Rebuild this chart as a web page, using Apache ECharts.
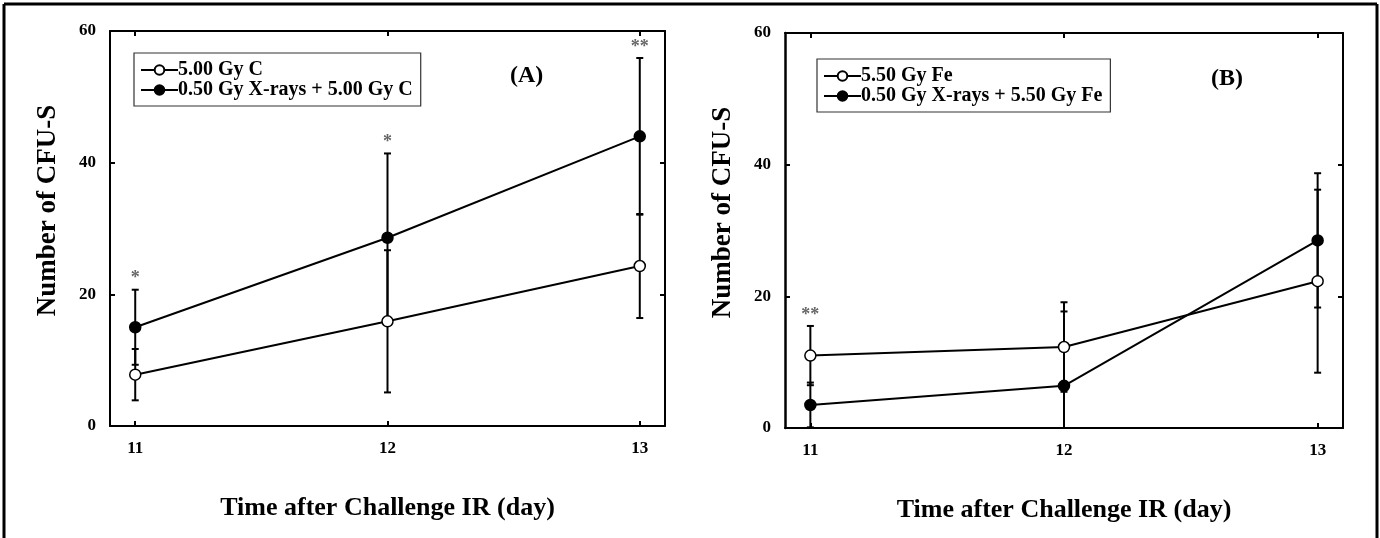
<!DOCTYPE html>
<html>
<head>
<meta charset="utf-8">
<script src="https://cdn.jsdelivr.net/npm/echarts@6/dist/echarts.min.js"></script>
<style>
html, body { margin: 0; padding: 0; background: #fff; }
#main { width: 1380px; height: 538px; }
</style>
</head>
<body>
<div id="main"></div>
<script>
var days = [11, 12, 13];
var yTicks = [0, 20, 40, 60];

// panel A: carbon ions
var cAloneMean = [7.8, 15.9, 24.3];
var cAloneErr = [3.9, 10.8, 7.9];
var cPrimedMean = [15.0, 28.6, 44.0];
var cPrimedErr = [5.7, 12.8, 11.9];
var starsA = ['*', '*', '**'];

// panel B: iron ions
var feAloneMean = [11.0, 12.3, 22.3];
var feAloneErr = [4.5, 6.8, 13.9];
var fePrimedMean = [3.5, 6.4, 28.5];
var fePrimedErr = [3.4, 11.3, 10.2];
var starsB = ['**', '', ''];

var serif = 'Liberation Serif';

function pairs(xs, ys) {
	var out = [];
	for (var i = 0; i < xs.length; i++) out.push([xs[i], ys[i]]);
	return out;
}

function errData(means, errs) {
	var out = [];
	for (var i = 0; i < days.length; i++) {
		out.push([days[i], means[i] - errs[i], means[i] + errs[i]]);
	}
	return out;
}

function errSeries(idx, means, errs) {
	return {
		type: 'custom',
		xAxisIndex: idx * 2,
		yAxisIndex: idx * 2,
		z: 2,
		silent: true,
		data: errData(means, errs),
		renderItem: function(params, api) {
			var x = api.value(0);
			var lo = api.value(1);
			var hi = api.value(2);
			var pLo = api.coord([x, Math.max(lo, 0)]);
			var pHi = api.coord([x, hi]);
			var st = { stroke: '#000', lineWidth: 2 };
			var kids = [
				{ type: 'line', shape: { x1: pLo[0], y1: pLo[1], x2: pHi[0], y2: pHi[1] }, style: st },
				{ type: 'line', shape: { x1: pHi[0] - 3.5, y1: pHi[1], x2: pHi[0] + 3.5, y2: pHi[1] }, style: st }
			];
			if (lo > 0) {
				kids.push({ type: 'line', shape: { x1: pLo[0] - 3.5, y1: pLo[1], x2: pLo[0] + 3.5, y2: pLo[1] }, style: st });
			}
			return { type: 'group', children: kids };
		}
	};
}

function starSeries(idx, stars, groups) {
	var data = [];
	for (var i = 0; i < days.length; i++) {
		var top = 0;
		for (var g = 0; g < groups.length; g++) {
			top = Math.max(top, groups[g][0][i] + groups[g][1][i]);
		}
		data.push([days[i], top, stars[i]]);
	}
	return {
		type: 'custom',
		xAxisIndex: idx * 2,
		yAxisIndex: idx * 2,
		z: 4,
		silent: true,
		data: data,
		renderItem: function(params, api) {
			var p = api.coord([api.value(0), api.value(1)]);
			return {
				type: 'text',
				x: p[0],
				y: p[1] - 11,
				style: {
					text: stars[params.dataIndex],
					fill: '#666',
					font: 'bold 18px ' + serif,
					align: 'center',
					verticalAlign: 'middle'
				}
			};
		}
	};
}

function lineSeries(idx, name, means, open) {
	return {
		type: 'line',
		name: name,
		xAxisIndex: idx * 2,
		yAxisIndex: idx * 2,
		z: 3,
		data: pairs(days, means),
		symbol: 'circle',
		symbolSize: 11,
		showAllSymbol: true,
		lineStyle: { color: '#000', width: 2 },
		itemStyle: { color: open ? '#fff' : '#000', borderColor: '#000', borderWidth: 1.5 },
		emphasis: { disabled: true }
	};
}

function axesFor(idx) {
	var bottom = {
		type: 'value', gridIndex: idx, min: 10.9, max: 13.1,
		position: 'bottom',
		name: 'Time after Challenge IR (day)',
		nameLocation: 'middle', nameGap: 69,
		nameTextStyle: { fontFamily: serif, fontWeight: 'bold', fontSize: 26, color: '#000' },
		axisLine: { onZero: false, lineStyle: { color: '#000', width: 2 } },
		axisTick: { inside: true, length: 5, customValues: days, lineStyle: { color: '#000', width: 2 } },
		axisLabel: { customValues: days, margin: 14, fontFamily: serif, fontWeight: 'bold', fontSize: 17, color: '#000' },
		splitLine: { show: false }
	};
	var top = {
		type: 'value', gridIndex: idx, min: 10.9, max: 13.1,
		position: 'top',
		axisLine: { onZero: false, lineStyle: { color: '#000', width: 2 } },
		axisTick: { inside: true, length: 5, customValues: days, lineStyle: { color: '#000', width: 2 } },
		axisLabel: { show: false },
		splitLine: { show: false }
	};
	var left = {
		type: 'value', gridIndex: idx, min: 0, max: 60, interval: 20,
		position: 'left',
		name: 'Number of CFU-S',
		nameLocation: 'middle', nameGap: 48,
		nameTextStyle: { fontFamily: serif, fontWeight: 'bold', fontSize: 27, color: '#000', padding: [0, 0, 0, 36] },
		axisLine: { onZero: false, lineStyle: { color: '#000', width: idx ? 2.5 : 2 } },
		axisTick: { inside: true, length: 5, lineStyle: { color: '#000', width: 2 } },
		axisLabel: { margin: 14, fontFamily: serif, fontWeight: 'bold', fontSize: 17, color: '#000' },
		splitLine: { show: false }
	};
	var right = {
		type: 'value', gridIndex: idx, min: 0, max: 60, interval: 20,
		position: 'right',
		axisLine: { onZero: false, lineStyle: { color: '#000', width: 2 } },
		axisTick: { inside: true, length: 5, lineStyle: { color: '#000', width: 2 } },
		axisLabel: { show: false },
		splitLine: { show: false }
	};
	return { x: [bottom, top], y: [left, right] };
}

var axA = axesFor(0);
var axB = axesFor(1);

function legendFor(left, top, names) {
	return {
		left: left, top: top,
		orient: 'vertical',
		data: names,
		itemWidth: 37, itemHeight: 12, itemGap: 0,
		padding: [7, 8, 6, 6],
		borderColor: '#333', borderWidth: 1.2, borderRadius: 0,
		selectedMode: false,
		textStyle: { fontFamily: serif, fontWeight: 'bold', fontSize: 20, color: '#000', padding: [0, 0, 0, -5] }
	};
}

var myChart = echarts.init(document.getElementById('main'));

myChart.setOption({
	backgroundColor: '#fff',
	animation: false,
	grid: [
		{ left: 110, top: 31, width: 555, height: 395 },
		{ left: 785, top: 33, width: 558, height: 395 }
	],
	xAxis: axA.x.concat(axB.x),
	yAxis: axA.y.concat(axB.y),
	legend: [
		legendFor(134, 53, ['5.00 Gy C', '0.50 Gy X-rays + 5.00 Gy C']),
		legendFor(817, 59, ['5.50 Gy Fe', '0.50 Gy X-rays + 5.50 Gy Fe'])
	],
	graphic: [
		{ type: 'text', left: 510, top: 64, style: { text: '(A)', font: 'bold 24px ' + serif, fill: '#000' } },
		{ type: 'text', left: 1211, top: 67, style: { text: '(B)', font: 'bold 24px ' + serif, fill: '#000' } },
		{ type: 'line', shape: { x1: 4, y1: 4, x2: 1377, y2: 4 }, style: { stroke: '#000', lineWidth: 3 } },
		{ type: 'line', shape: { x1: 4, y1: 4, x2: 4, y2: 538 }, style: { stroke: '#000', lineWidth: 3 } },
		{ type: 'line', shape: { x1: 1377, y1: 4, x2: 1377, y2: 538 }, style: { stroke: '#000', lineWidth: 3 } }
	],
	series: [
		errSeries(0, cAloneMean, cAloneErr),
		errSeries(0, cPrimedMean, cPrimedErr),
		lineSeries(0, '5.00 Gy C', cAloneMean, true),
		lineSeries(0, '0.50 Gy X-rays + 5.00 Gy C', cPrimedMean, false),
		starSeries(0, starsA, [[cAloneMean, cAloneErr], [cPrimedMean, cPrimedErr]]),
		errSeries(1, feAloneMean, feAloneErr),
		errSeries(1, fePrimedMean, fePrimedErr),
		lineSeries(1, '5.50 Gy Fe', feAloneMean, true),
		lineSeries(1, '0.50 Gy X-rays + 5.50 Gy Fe', fePrimedMean, false),
		starSeries(1, starsB, [[feAloneMean, feAloneErr], [fePrimedMean, fePrimedErr]])
	]
});
</script>
</body>
</html>
